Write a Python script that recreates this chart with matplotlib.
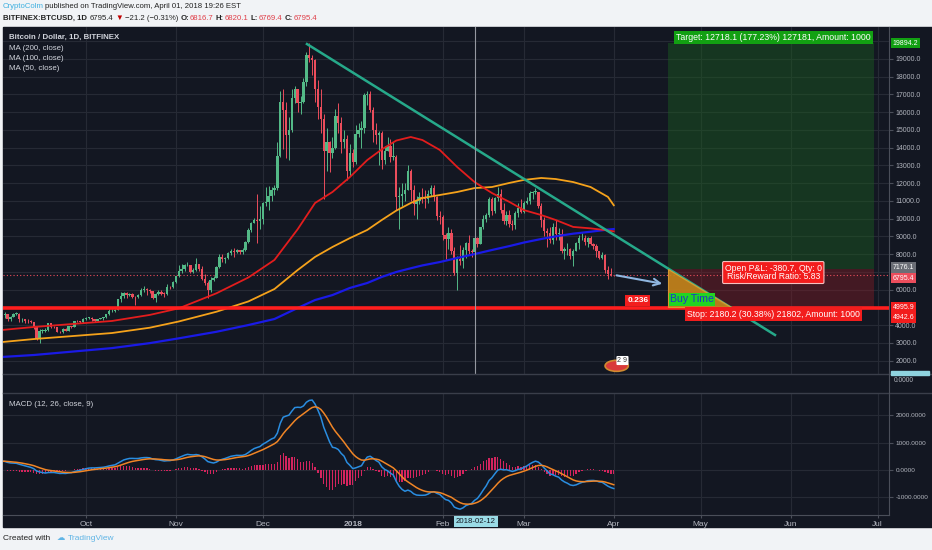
import numpy as np
import pandas as pd
import matplotlib
matplotlib.use('Agg')
import matplotlib.pyplot as plt
import matplotlib.dates as mdates
from matplotlib.patches import Rectangle, Polygon, Ellipse
from matplotlib.lines import Line2D
from matplotlib.ticker import FuncFormatter

plt.rcParams['font.family'] = ['Liberation Sans', 'DejaVu Sans']

# BITFINEX:BTCUSD daily, 2017-09-02 .. 2018-04-01 (open = previous close)
first_open = 4890.0
closes_sep = [4580, 4620, 4350, 4480, 4640, 4650, 4330, 4330, 4250, 4210,
              4170, 3870, 3250, 3690, 3690, 3700, 4090, 3910, 3880, 3620,
              3600, 3790, 3680, 3930, 3890, 4210, 4200, 4180, 4350]
highs_sep = [4920, 4720, 4650, 4520, 4680, 4720, 4660, 4400, 4350, 4320,
             4260, 4190, 3900, 3750, 3790, 3860, 4100, 4120, 3950, 3890,
             3640, 3820, 3820, 3940, 3960, 4230, 4280, 4230, 4370]
lows_sep = [4420, 4400, 4250, 4220, 4460, 4570, 4180, 4150, 4100, 4100,
            4120, 3800, 3150, 2980, 3560, 3600, 3660, 3860, 3840, 3590,
            3560, 3560, 3640, 3660, 3850, 3880, 4150, 4130, 4140]
closes_oct = [4400, 4410, 4320, 4230, 4330, 4380, 4440, 4610, 4780, 4780,
              4830, 5440, 5640, 5820, 5690, 5750, 5600, 5560, 5700, 6000,
              6010, 5980, 5900, 5520, 5740, 5890, 5770, 5750, 6150, 6130, 6450]
highs_oct = [4470, 4470, 4440, 4350, 4360, 4410, 4460, 4630, 4880, 4930,
             4880, 5450, 5850, 5850, 5850, 5780, 5790, 5620, 5740, 6080,
             6190, 6070, 6040, 5920, 5780, 5970, 6000, 5860, 6330, 6200, 6470]
lows_oct = [4300, 4340, 4200, 4150, 4200, 4320, 4310, 4420, 4570, 4720,
            4740, 4820, 5280, 5550, 5520, 5620, 5500, 5120, 5500, 5620,
            5850, 5720, 5780, 5460, 5320, 5700, 5720, 5600, 5690, 6030, 6080]
closes_nov = [6740, 7030, 7150, 7380, 7400, 6990, 7130, 7460, 7140, 6620,
              6350, 5950, 6560, 6630, 7280, 7850, 7700, 7790, 8040, 8200,
              8090, 8250, 8090, 8230, 8700, 9330, 9740, 9900, 9840, 10000]
highs_nov = [6780, 7400, 7450, 7420, 7560, 7400, 7200, 7780, 7400, 7300,
             6850, 6470, 6700, 6750, 7320, 7990, 8000, 7850, 8100, 8300,
             8370, 8300, 8250, 8320, 8750, 9490, 9800, 10020, 11400, 10720]
lows_nov = [6380, 6720, 6950, 7050, 7320, 6950, 6960, 7050, 7030, 6550,
            6250, 5500, 5850, 6490, 6630, 7220, 7580, 7500, 7700, 7950,
            7860, 8080, 8000, 7980, 8180, 8650, 9240, 9730, 8600, 9400]
closes_dec = [10860, 10910, 11290, 11640, 11700, 13540, 16600, 16100, 14700, 15000,
              16800, 17300, 16500, 16600, 17700, 19200, 19050, 18950, 17300, 16300,
              15600, 13800, 14300, 13700, 14000, 15800, 15400, 14300, 14500, 12700, 13700]
highs_dec = [10950, 11800, 11850, 11800, 11900, 14300, 17200, 17300, 16600, 15700,
             17300, 17500, 17200, 16900, 17900, 19400, 19891, 19200, 19000, 17800,
             17300, 15900, 15100, 14400, 14600, 16200, 16500, 15700, 15000, 14700, 14200]
lows_dec = [9700, 10700, 10500, 11000, 11350, 11600, 13500, 13900, 13400, 13300,
            14900, 16500, 16000, 15900, 16500, 17500, 18800, 18100, 16600, 15600,
            14800, 11100, 12700, 12600, 13400, 13900, 14800, 13700, 14000, 12200, 12400]
closes_jan = [13200, 14750, 15000, 15100, 16950, 17050, 16100, 14980, 14700, 14800,
              13300, 13800, 14100, 13500, 13500, 11200, 11250, 11400, 11600, 12700,
              11600, 10800, 11000, 11200, 11150, 11100, 11400, 11700, 11200, 10150, 10100]
highs_jan = [13900, 15300, 15400, 15500, 17100, 17200, 17200, 16300, 15400, 14950,
             14950, 14100, 14600, 14500, 14300, 13600, 11800, 12000, 12000, 13000,
             12800, 11900, 11300, 11500, 11700, 11600, 11600, 11900, 11900, 11300, 10450]
lows_jan = [12900, 13100, 14600, 14000, 14800, 16400, 16000, 14300, 14200, 13000,
            12800, 13100, 13800, 13200, 13300, 10500, 9400, 10700, 11000, 11600,
            11000, 10200, 10000, 10800, 10900, 10600, 10900, 11300, 11000, 9900, 9700]
closes_feb = [9100, 8850, 9200, 8200, 6950, 7700, 7600, 8250, 8650, 8150,
              8100, 8900, 8550, 9500, 10000, 10200, 11100, 10400, 11150, 11400,
              10500, 9850, 10200, 9700, 9650, 10300, 10600, 10350]
highs_feb = [10200, 9200, 9500, 9400, 8400, 7900, 8500, 8400, 8700, 9100,
             8300, 8950, 8950, 9500, 10200, 10300, 11200, 11200, 11200, 11800,
             11650, 10900, 10400, 10500, 9900, 10400, 10900, 11100]
lows_feb = [8800, 7700, 8300, 8000, 6800, 6000, 7400, 7200, 7800, 7950,
            7850, 8050, 8400, 8550, 9400, 9800, 10100, 10200, 10300, 11000,
            10300, 9700, 9650, 9500, 9350, 9400, 10100, 10300]
closes_mar = [10900, 11000, 11450, 11500, 11500, 10700, 9900, 9300, 9200, 8800,
              9550, 9150, 9150, 8200, 8270, 8300, 7900, 8200, 8600, 8900,
              8900, 8700, 8900, 8550, 8450, 8150, 7800, 7950, 7100, 6850, 6816.7]
highs_mar = [11000, 11200, 11550, 11550, 11700, 11500, 10900, 10100, 9450, 9500,
             9750, 9900, 9450, 9400, 8400, 8600, 8350, 8300, 8700, 9050,
             9200, 9100, 8950, 9000, 8650, 8550, 8200, 8100, 8000, 7300, 7200]
lows_mar = [10300, 10800, 10850, 11100, 11400, 10600, 9500, 9000, 8400, 8600,
            8550, 8800, 8800, 8050, 7700, 7950, 7750, 7300, 8150, 8300,
            8800, 8500, 8400, 8500, 8300, 7850, 7750, 7750, 6950, 6600, 6780]
closes_apr = [6795.4]
highs_apr = [6820.1]
lows_apr = [6769.4]

# Aug 1 .. Sep 1 closes, only used to warm up the MACD
warmup_closes = [2720, 2710, 2800, 2870, 3250, 3220, 3390, 3420, 3340, 3420,
                 3650, 3880, 4060, 4320, 4160, 4380, 4280, 4110, 4190, 4090,
                 4000, 4090, 4150, 4330, 4370, 4350, 4380, 4380, 4590, 4570,
                 4740, 4890]

# moving averages
ma_dates = ['2017-09-02', '2017-09-13', '2017-10-10', '2017-10-23', '2017-11-02',
            '2017-11-15', '2017-11-26', '2017-12-05', '2017-12-13', '2017-12-19',
            '2017-12-25', '2017-12-31', '2018-01-06', '2018-01-11', '2018-01-16',
            '2018-01-21', '2018-01-25', '2018-01-31', '2018-02-06', '2018-02-12',
            '2018-02-18', '2018-02-24', '2018-03-01', '2018-03-07', '2018-03-12',
            '2018-03-18', '2018-03-24', '2018-03-30', '2018-04-01']
ma50 = [3720, 3890, 4230, 4570, 4940, 5790, 6680, 7670, 9400, 10880,
        11500, 12340, 13300, 13900, 14400, 14600, 14430, 13870, 12910, 12060,
        11440, 10940, 10480, 10200, 9920, 9530, 9450, 9330, 9280]
ma100 = [3040, 3210, 3550, 3850, 4200, 4750, 5330, 6030, 7100, 7840,
         8400, 8900, 9360, 9920, 10450, 10880, 11160, 11330, 11500, 11720,
         11780, 12010, 12180, 12290, 12230, 12060, 11780, 11220, 10750]
ma200 = [2200, 2310, 2700, 2980, 3250, 3620, 4000, 4340, 4960, 5410,
         5690, 6090, 6370, 6710, 6990, 7200, 7360, 7550, 7780, 8000,
         8230, 8450, 8650, 8850, 9000, 9150, 9260, 9380, 9410]

# drawings
trend_dates = ['2017-12-16 05:00', '2018-05-26 14:00']
trend_prices = [19840, 3440]
pos_start, pos_end = '2018-04-19 16:00', '2018-06-29 16:00'
entry, target, stop = 7176.1, 19894.2, 4995.9
support = 4942.6
last_price = 6795.4
arrow_from = ('2018-04-01', 6830)
arrow_to = ('2018-04-18 16:00', 6300)
cross_date = '2018-02-12'

closes = (closes_sep + closes_oct + closes_nov + closes_dec + closes_jan +
          closes_feb + closes_mar + closes_apr)
highs = (highs_sep + highs_oct + highs_nov + highs_dec + highs_jan +
         highs_feb + highs_mar + highs_apr)
lows = (lows_sep + lows_oct + lows_nov + lows_dec + lows_jan +
        lows_feb + lows_mar + lows_apr)
dates = pd.date_range('2017-09-02', periods=len(closes), freq='D')
c = np.array(closes, float)
o = np.array([first_open] + closes[:-1], float)
h = np.maximum(np.array(highs, float), np.maximum(o, c))
l = np.minimum(np.array(lows, float), np.minimum(o, c))

full = pd.Series(warmup_closes + closes, dtype=float)
macd = full.ewm(span=12, adjust=False).mean() - full.ewm(span=26, adjust=False).mean()
signal = macd.ewm(span=9, adjust=False).mean()
macd = macd.values[-len(closes):]
signal = signal.values[-len(closes):]
hist = macd - signal

BG = '#131722'
GRID = '#262a35'
TXT = '#b2b5be'
UP, DOWN = '#53b987', '#eb4d5c'
W, H = 932, 550


def fx(x):
    return x / W


def fy(y):
    return 1 - y / H


def d(s):
    return mdates.date2num(pd.Timestamp(s))


fig = plt.figure(figsize=(9.32, 5.5), dpi=100, facecolor='#f1f3f6')
fig.patches.append(Rectangle((fx(3), fy(527)), fx(929), 500 / H, transform=fig.transFigure,
                             color=BG, zorder=-5))

ax = fig.add_axes([fx(3), fy(374), fx(886), 347 / H], facecolor=BG)
axm = fig.add_axes([fx(3), fy(515), fx(886), 122 / H], facecolor=BG)

x = mdates.date2num(dates)
xlim = (d('2017-10-01') - 28.6, d('2017-10-01') + 276.9)
month_ticks = [d(s) for s in ['2017-10-01', '2017-11-01', '2017-12-01', '2018-01-01',
                              '2018-02-01', '2018-03-01', '2018-04-01', '2018-05-01',
                              '2018-06-01', '2018-07-01']]
month_labels = ['Oct', 'Nov', 'Dec', '2018', 'Feb', 'Mar', 'Apr', 'May', 'Jun', 'Jul']

# ---- price pane ----
for lvl in range(2000, 20001, 1000):
    ax.axhline(lvl, color=GRID, lw=0.8, zorder=0)
for t in month_ticks:
    ax.axvline(t, color=GRID, lw=0.8, zorder=0)
    axm.axvline(t, color=GRID, lw=0.8, zorder=0)

# position tool
p0, p1 = d(pos_start), d(pos_end)
ax.add_patch(Rectangle((p0, entry), p1 - p0, target - entry, color='#1b5e20', alpha=0.45, lw=0, zorder=1))
ax.add_patch(Rectangle((p0, stop), p1 - p0, entry - stop, color='#7f1d26', alpha=0.45, lw=0, zorder=1))

cols = np.where(c >= o, UP, DOWN)
ax.vlines(x, l, h, colors=cols, lw=0.7, zorder=3)
body = np.maximum(np.abs(c - o), 30)
ax.bar(x, body, bottom=np.minimum(o, c), width=0.8, color=cols, lw=0, zorder=3)

md = [d(s) for s in ma_dates]
ax.plot(md, ma200, color='#1a1ae6', lw=1.6, zorder=4)
ax.plot(md, ma100, color='#f5a21b', lw=1.3, zorder=4)
ax.plot(md, ma50, color='#e31d1d', lw=1.3, zorder=4)

td = [d(s) for s in trend_dates]
ax.plot(td, trend_prices, color='#26a98a', lw=1.8, zorder=5)

ax.axhline(support, color='#ff1e1e', lw=2.6, zorder=4)
ax.axhline(last_price, color=DOWN, lw=0.8, ls=(0, (1, 2)), zorder=2)
ax.axvline(d(cross_date), color='#9598a1', lw=0.8, zorder=6)

# triangle between entry, stop and trendline
t_hit = np.interp(stop, trend_prices[::-1], td[::-1])
ax.add_patch(Polygon([(p0, entry), (p0, stop), (t_hit, stop)], closed=True,
                     facecolor='#c4861b', edgecolor='#e0a030', lw=0.8, alpha=0.9, zorder=6))

ax.annotate('', xy=(d(arrow_to[0]), arrow_to[1]), xytext=(d(arrow_from[0]), arrow_from[1]),
            arrowprops=dict(arrowstyle='->', color='#8fb6e0', lw=1.5, mutation_scale=12), zorder=7)

ax.text(d('2018-04-09 06:00'), 5380, '0.236', color='white', fontsize=6, weight='bold',
        ha='center', va='center', zorder=8,
        bbox=dict(boxstyle='square,pad=0.25', fc='#f21d1d', ec='none'))
ax.text(d('2018-04-20 08:00'), 5440, 'Buy Time', color='#1c36c8', fontsize=7.6,
        ha='left', va='center', zorder=8,
        bbox=dict(boxstyle='square,pad=0.12', fc='#22d422', ec='none'))
ax.text(d('2018-05-26'), 6960, 'Open P&L: -380.7, Qty: 0\nRisk/Reward Ratio: 5.83', color='white',
        fontsize=6.2, ha='center', va='center', linespacing=0.95, zorder=8,
        bbox=dict(boxstyle='round,pad=0.25,rounding_size=0.15', fc='#f21d1d', ec='#f5c0c0', lw=0.8))
ax.text(d('2018-05-26'), 4620, 'Stop: 2180.2 (30.38%) 21802, Amount: 1000', color='white',
        fontsize=6.3, ha='center', va='center', zorder=8,
        bbox=dict(boxstyle='square,pad=0.25', fc='#f21d1d', ec='none'))
ax.text(d('2018-05-26'), 20210, 'Target: 12718.1 (177.23%) 127181, Amount: 1000', color='white',
        fontsize=6.3, ha='center', va='center', zorder=8,
        bbox=dict(boxstyle='square,pad=0.25', fc='#12a012', ec='none'))

# small idea badge
ax.add_patch(Ellipse((d('2018-04-02'), 1700), 8, 620, facecolor='#d93a3a', edgecolor='#d08a30',
                     lw=1.2, zorder=8))
ax.text(d('2018-04-04'), 2000, '2 9', fontsize=5, color='#333333', ha='center', va='center', zorder=9,
        bbox=dict(boxstyle='round,pad=0.15', fc='white', ec='none'))

ax.set_xlim(xlim)
ax.set_ylim(1240, 20800)
ax.set_xticks(month_ticks)
ax.tick_params(axis='x', length=0, labelbottom=False)
ax.yaxis.tick_right()
ax.set_yticks([v for v in range(2000, 19001, 1000) if v not in (5000, 7000)])
ax.yaxis.set_major_formatter(FuncFormatter(lambda v, p: f'{v:.1f}'))
ax.tick_params(axis='y', colors='#4a4e59', labelcolor=TXT, labelsize=5, length=3, pad=1.5)
for s in ax.spines.values():
    s.set_visible(False)
ax.spines['right'].set_visible(True)
ax.spines['right'].set_color('#4a4e59')

# price-scale labels (pushed apart where they would collide)
for price, fc, off in [(target, '#12a012', 0), (entry, '#6b6e76', 1), (last_price, DOWN, -2),
                       (stop, '#f21d1d', 0), (support, '#f21d1d', -6.8)]:
    ax.annotate(f'{price:.1f}', xy=(1.0, price), xycoords=('axes fraction', 'data'),
                xytext=(2.5, off), textcoords='offset points', color='white', fontsize=5,
                ha='left', va='center', annotation_clip=False, zorder=10,
                bbox=dict(boxstyle='square,pad=0.25', fc=fc, ec='none'))

legend_lines = [('Bitcoin / Dollar, 1D, BITFINEX', 'bold', 37), ('MA (200, close)', 'normal', 48),
                ('MA (100, close)', 'normal', 58.5), ('MA (50, close)', 'normal', 69)]
for s, wgt, yy in legend_lines:
    fig.text(fx(9), fy(yy), s, color='#d1d4dc', fontsize=5.7, weight=wgt, va='center', ha='left')

# ---- MACD pane ----
axm.axhline(0, color=GRID, lw=0.8, zorder=0)
for lvl in (-1000, 1000, 2000):
    axm.axhline(lvl, color=GRID, lw=0.8, zorder=0)
axm.bar(x, hist, width=0.45, color='#d4245e', lw=0, zorder=2)
axm.plot(x, macd, color='#2a8de0', lw=1.1, zorder=3)
axm.plot(x, signal, color='#f08526', lw=1.1, zorder=3)
axm.set_xlim(xlim)
axm.set_ylim(-1650, 2820)
axm.yaxis.tick_right()
axm.set_yticks([-1000, 0, 1000, 2000])
axm.yaxis.set_major_formatter(FuncFormatter(lambda v, p: f'{v:.4f}'))
axm.tick_params(axis='y', colors='#4a4e59', labelcolor=TXT, labelsize=4.6, length=3, pad=1.5)
axm.set_xticks(month_ticks)
axm.set_xticklabels(month_labels)
axm.tick_params(axis='x', colors='#4a4e59', labelcolor=TXT, labelsize=6, length=2, pad=2.5)
for lab in axm.get_xticklabels():
    if lab.get_text() == '2018':
        lab.set_fontweight('bold')
for s in axm.spines.values():
    s.set_visible(False)
for k in ('right', 'bottom'):
    axm.spines[k].set_visible(True)
    axm.spines[k].set_color('#4a4e59')
fig.text(fx(9), fy(405), 'MACD (12, 26, close, 9)', color='#d1d4dc', fontsize=5.7, va='center')

# pane separators and collapsed pane
for yy in (374, 393):
    fig.add_artist(Line2D([fx(3), 1], [fy(yy), fy(yy)], color='#3a3e4a', lw=1.0))
fig.add_artist(Line2D([fx(889), fx(889)], [fy(374), fy(393)], color='#4a4e59', lw=0.8))
fig.patches.append(Rectangle((fx(891), fy(375)), fx(38), 4 / H, transform=fig.transFigure,
                             color='#8fd3df', zorder=3))
fig.text(fx(894), fy(381), '0.0000', color=TXT, fontsize=4.8, va='center')

# crosshair date label
fig.text(fx(476), fy(521.5), '2018-02-12', color='#131722', fontsize=5.6, ha='center', va='center',
         bbox=dict(boxstyle='square,pad=0.3', fc='#9adbe6', ec='none'))


# header / footer rows, placed left to right
def row(items, x0, y, size):
    r = fig.canvas.get_renderer()
    cur = x0
    for s, col, wgt, gap in items:
        t = fig.text(fx(cur), fy(y), s, color=col, fontsize=size, weight=wgt, va='center')
        cur += t.get_window_extent(r).width + gap


row([('CryptoColm', '#3fb0e0', 'normal', 1.2),
     ('published on TradingView.com, April 01, 2018 19:26 EST', '#222222', 'normal', 0)], 3, 7, 5.6)
row([('BITFINEX:BTCUSD, 1D', '#222222', 'bold', 3), ('6795.4', '#222222', 'normal', 2),
     ('\u25bc', '#c00000', 'normal', 1.2), ('\u221221.2 (\u22120.31%)', '#222222', 'normal', 2.5),
     ('O:', '#222222', 'bold', 0.5), ('6816.7', '#e0404a', 'normal', 2.5),
     ('H:', '#222222', 'bold', 0.5), ('6820.1', '#e0404a', 'normal', 2.5),
     ('L:', '#222222', 'bold', 0.5), ('6769.4', '#e0404a', 'normal', 2.5),
     ('C:', '#222222', 'bold', 0.5), ('6795.4', '#e0404a', 'normal', 0)], 3, 18, 5.6)
row([('Created with', '#222222', 'normal', 6), ('\u2601', '#5fb4e5', 'normal', 3),
     ('TradingView', '#5fb4e5', 'normal', 0)], 3, 539, 6)

fig.savefig('out.png', dpi=100, facecolor=fig.get_facecolor())
